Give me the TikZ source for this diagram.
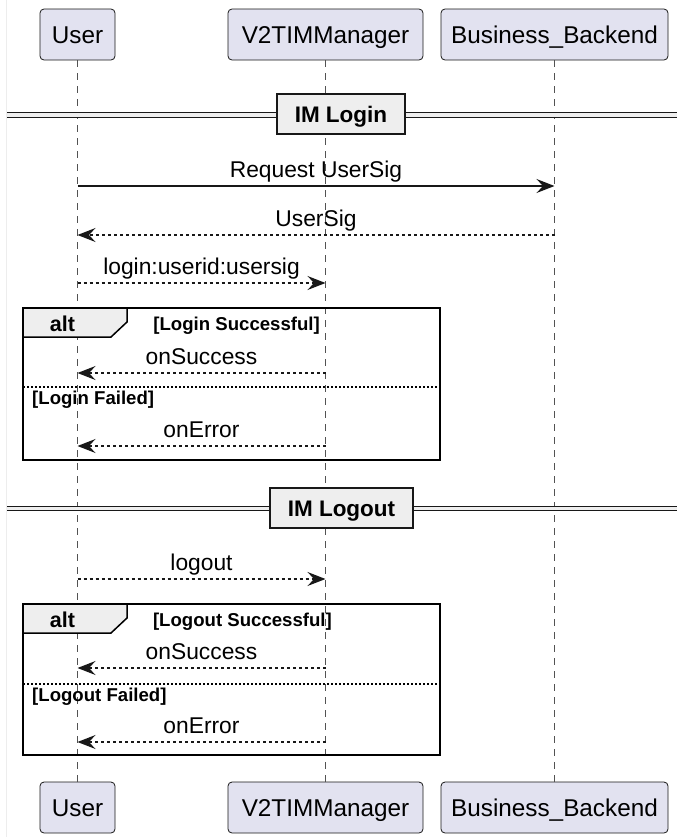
\documentclass[tikz,border=0pt]{standalone}
\usepackage{fontspec}
\setmainfont{Liberation Sans}
\usetikzlibrary{arrows.meta}

\definecolor{partfill}{HTML}{E2E2F0}
\definecolor{ink}{HTML}{181818}
\definecolor{tabfill}{HTML}{EEEEEE}

\tikzset{
  participant/.style={draw=ink, fill=partfill, rounded corners=4pt, line width=0.8pt,
    minimum height=51pt, inner sep=0pt, text height=18pt, text depth=0pt,
    font=\fontsize{24.3}{28}\selectfont, text=black},
  lifeline/.style={draw=ink!75, line width=0.8pt, dash pattern=on 6.5pt off 6.5pt},
  msg/.style={draw=ink, line width=1.2pt, -{Stealth[length=18pt,width=14pt,inset=6.5pt]}},
  reply/.style={msg, dash pattern=on 3pt off 3pt},
  msglabel/.style={anchor=base, inner sep=0pt, yshift=8.5pt,
    font=\fontsize{22.8}{26}\selectfont, text=black},
  sepline/.style={draw=ink, line width=1.3pt},
  sepbox/.style={draw=ink, fill=tabfill, line width=2.6pt, minimum height=40pt,
    inner sep=0pt, text height=16pt, text depth=0pt,
    font=\fontsize{22.5}{26}\selectfont\bfseries, text=black},
  frame/.style={draw=black, line width=2.5pt},
  tabshape/.style={draw=black, fill=tabfill, line width=1.5pt},
  altword/.style={anchor=base, inner sep=0pt, font=\fontsize{21.5}{24}\selectfont\bfseries},
  guard/.style={inner sep=0pt, font=\fontsize{18.6}{22}\selectfont\bfseries},
  divider/.style={draw=black, line width=1.2pt, dash pattern=on 2pt off 2pt},
}

\begin{document}
\begin{tikzpicture}[x=1pt, y=-1pt]
\useasboundingbox (0,0) rectangle (679,839);
\draw[black!7, line width=0.8pt] (6,0) -- (6,837);

% participants, top and bottom
\node[participant, minimum width=75pt]  (userT) at (77.5,34.5)  {User};
\node[participant, minimum width=195pt] (mgrT)  at (325.5,34.5) {V2TIMManager};
\node[participant, minimum width=227pt] (bkT)   at (554.5,34.5) {Business\_Backend};
\node[participant, minimum width=75pt]  (userB) at (77.5,807.5)  {User};
\node[participant, minimum width=195pt] (mgrB)  at (325.5,807.5) {V2TIMManager};
\node[participant, minimum width=227pt] (bkB)   at (554.5,807.5) {Business\_Backend};

% lifelines
\draw[lifeline] (userT.south) -- (userB.north);
\draw[lifeline] (mgrT.south) -- (mgrB.north);
\draw[lifeline] (bkT.south) -- (bkB.north);

% section divider: IM Login
\fill[tabfill] (7,112.7) rectangle (677,117.3);
\draw[sepline] (7,112.7) -- (677,112.7);
\draw[sepline] (7,117.3) -- (677,117.3);
\node[sepbox, minimum width=128pt] (secLogin) at (341,114) {IM Login};

% message anchors on the lifelines
\coordinate (uReq) at (userT |- 0,186);  \coordinate (bReq) at (bkT |- 0,186);
\coordinate (uSig) at (userT |- 0,235);  \coordinate (bSig) at (bkT |- 0,235);
\coordinate (uLog) at (userT |- 0,283);  \coordinate (mLog) at (mgrT |- 0,283);
\coordinate (uOk)  at (userT |- 0,373);  \coordinate (mOk)  at (mgrT |- 0,373);
\coordinate (uErr) at (userT |- 0,446);  \coordinate (mErr) at (mgrT |- 0,446);
\coordinate (uOut) at (userT |- 0,579);  \coordinate (mOut) at (mgrT |- 0,579);
\coordinate (uOk2) at (userT |- 0,668);  \coordinate (mOk2) at (mgrT |- 0,668);
\coordinate (uErr2) at (userT |- 0,742); \coordinate (mErr2) at (mgrT |- 0,742);

% login exchange
\draw[msg]   (uReq) -- (bReq) node[msglabel, midway] {Request UserSig};
\draw[reply] (bSig) -- (uSig) node[msglabel, midway] {UserSig};
\draw[reply] (uLog) -- (mLog) node[msglabel, midway] {login:userid:usersig};

% alt block for login result
\filldraw[tabshape] (23,308) -- (127,308) -- (127,322) -- (111,337) -- (23,337) -- cycle;
\draw[frame] (23,308) rectangle (440,460);
\node[altword] (alt1) at (62.5,331) {alt};
\node[guard, anchor=base east] (g1) at (320,330) {[Login Successful]};
\draw[divider] (23,387) -- (440,387);
\node[guard, anchor=base west] (g2) at (32,404) {[Login Failed]};
\draw[reply] (mOk) -- (uOk) node[msglabel, midway] {onSuccess};
\draw[reply] (mErr) -- (uErr) node[msglabel, midway] {onError};

% section divider: IM Logout
\fill[tabfill] (7,506.2) rectangle (677,510.8);
\draw[sepline] (7,506.2) -- (677,506.2);
\draw[sepline] (7,510.8) -- (677,510.8);
\node[sepbox, minimum width=143pt] (secLogout) at (341.5,508) {IM Logout};

\draw[reply] (uOut) -- (mOut) node[msglabel, midway] {logout};

% alt block for logout result
\filldraw[tabshape] (23,604) -- (127,604) -- (127,618) -- (111,633) -- (23,633) -- cycle;
\draw[frame] (23,604) rectangle (440,755);
\node[altword] (alt2) at (62.5,627) {alt};
\node[guard, anchor=base east] (g3) at (332,626) {[Logout Successful]};
\draw[divider] (23,684) -- (440,684);
\node[guard, anchor=base west] (g4) at (32,701) {[Logout Failed]};
\draw[reply] (mOk2) -- (uOk2) node[msglabel, midway] {onSuccess};
\draw[reply] (mErr2) -- (uErr2) node[msglabel, midway] {onError};
\end{tikzpicture}
\end{document}
